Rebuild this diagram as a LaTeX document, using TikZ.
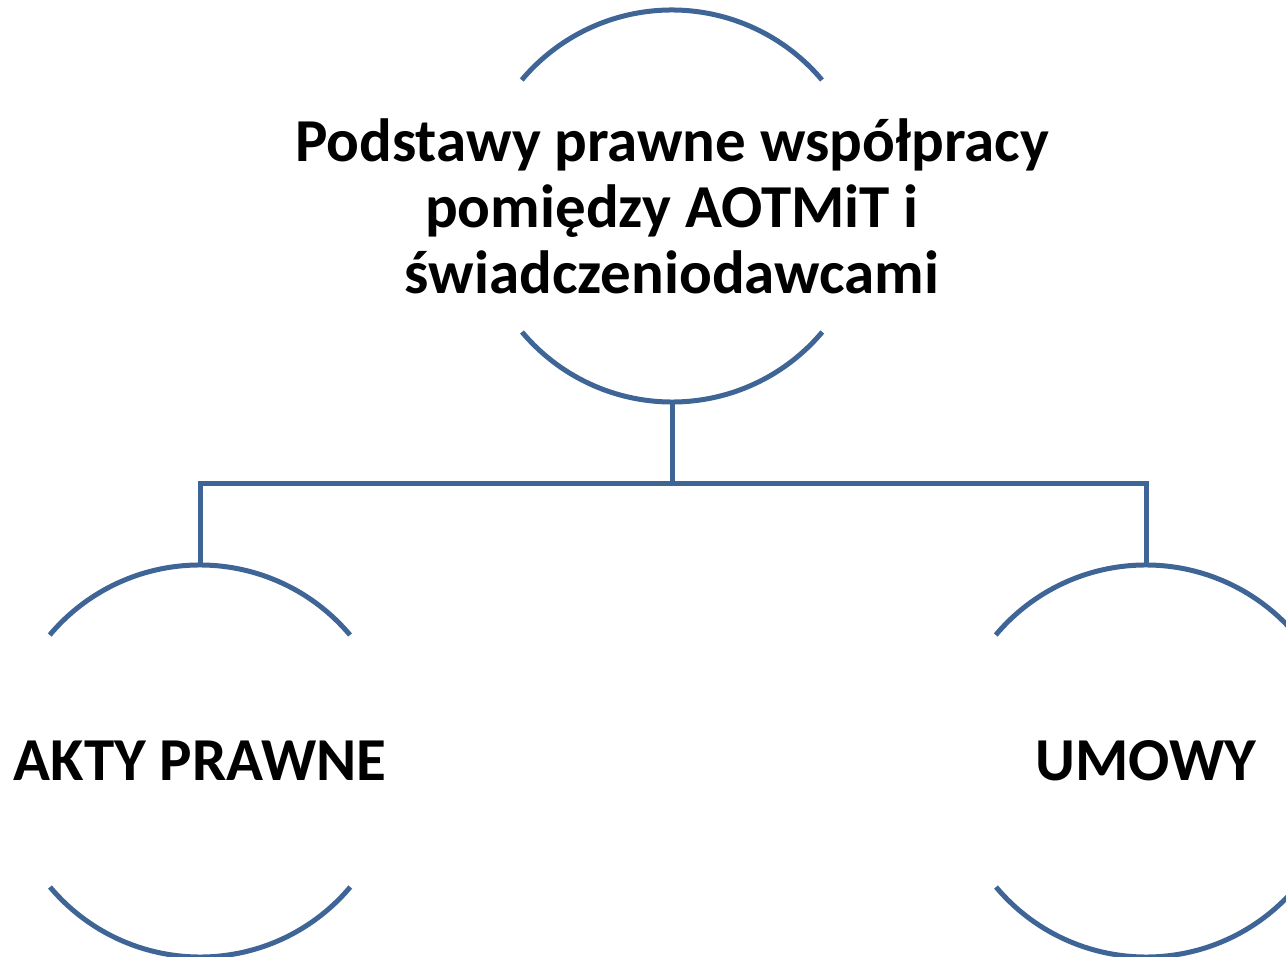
\documentclass[tikz,border=0pt]{standalone}
\usepackage{fontspec}
\setmainfont{Carlito}
\definecolor{lineblue}{HTML}{3F6597}
\begin{document}
\begin{tikzpicture}[x=1pt,y=-1pt,
  arcline/.style={draw=lineblue,line width=5pt},
  conn/.style={draw=lineblue,line width=5pt},
  lbl/.style={font=\bfseries\fontsize{61}{66}\selectfont,align=center,text=black,inner sep=0pt}]
\useasboundingbox (0,0) rectangle (1286,957);
\coordinate (tc) at (672,206);
\coordinate (lc) at (200,761);
\coordinate (rc) at (1146,761);
\draw[arcline] (tc) ++(150,-126) arc[start angle=-40,end angle=-140,radius=196];
\draw[arcline] (tc) ++(-150,126) arc[start angle=140,end angle=40,radius=196];
\draw[arcline] (lc) ++(150,-126) arc[start angle=-40,end angle=-140,radius=196];
\draw[arcline] (lc) ++(-150,126) arc[start angle=140,end angle=40,radius=196];
\draw[arcline] (rc) ++(150,-126) arc[start angle=-40,end angle=-140,radius=196];
\draw[arcline] (rc) ++(-150,126) arc[start angle=140,end angle=40,radius=196];
\node[lbl] (title) at (672,206) {Podstawy prawne współpracy\\pomiędzy AOTMiT i\\świadczeniodawcami};
\node[lbl] (akty) at (200,761) {AKTY PRAWNE};
\node[lbl] (umowy) at (1146,761) {UMOWY};
\coordinate (tb) at (672,402);
\coordinate (lt) at (200,565);
\coordinate (rt) at (1146,565);
\draw[conn] (tb) -- ++(0,82) -| (lt);
\draw[conn] (tb) -- ++(0,82) -| (rt);
\end{tikzpicture}
\end{document}
